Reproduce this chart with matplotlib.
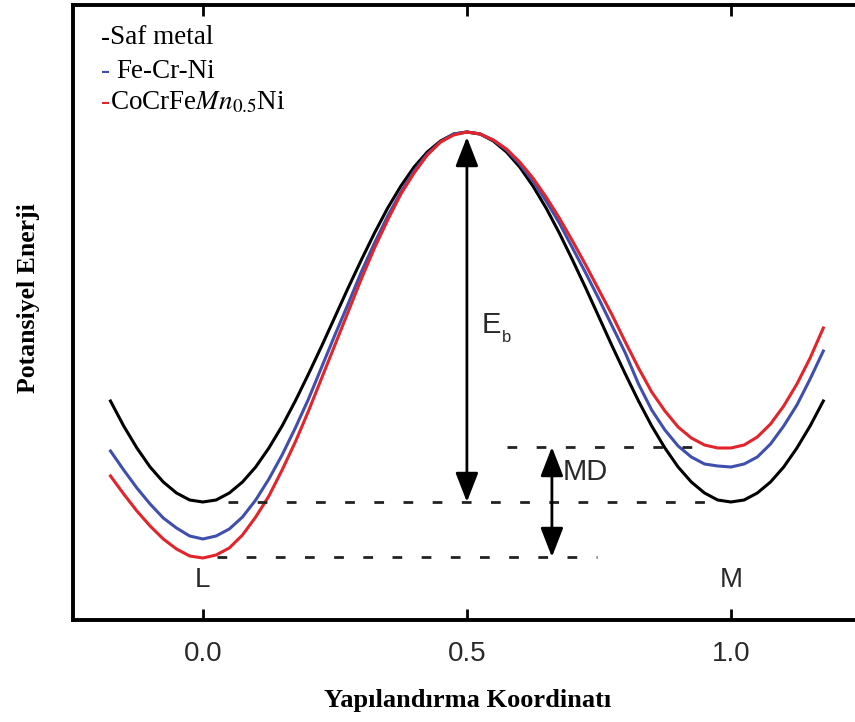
import matplotlib.pyplot as plt

plt.rcParams['mathtext.fontset'] = 'stix'

# reaction coordinate samples
x = [-0.175, -0.15, -0.125, -0.10, -0.075, -0.05, -0.025, 0.00,
     0.025, 0.05, 0.075, 0.10, 0.125, 0.15, 0.175, 0.20, 0.225, 0.25,
     0.275, 0.30, 0.325, 0.35, 0.375, 0.40, 0.425, 0.45, 0.475, 0.50,
     0.525, 0.55, 0.575, 0.60, 0.625, 0.65, 0.675, 0.70, 0.725, 0.75,
     0.775, 0.80, 0.825, 0.85, 0.875, 0.90, 0.925, 0.95, 0.975, 1.00,
     1.025, 1.05, 1.075, 1.10, 1.125, 1.15, 1.175]

# potential energy (arbitrary units)
saf_metal = [2.19, 1.94, 1.72, 1.53, 1.38, 1.27, 1.20, 1.18,
             1.20, 1.27, 1.38, 1.53, 1.72, 1.94, 2.19, 2.46, 2.74, 3.03,
             3.32, 3.60, 3.87, 4.12, 4.34, 4.53, 4.68, 4.79, 4.86, 4.88,
             4.86, 4.79, 4.68, 4.53, 4.34, 4.12, 3.87, 3.60, 3.32, 3.03,
             2.74, 2.46, 2.19, 1.94, 1.72, 1.53, 1.38, 1.27, 1.20, 1.18,
             1.20, 1.27, 1.38, 1.53, 1.72, 1.94, 2.19]
fe_cr_ni = [1.69, 1.50, 1.32, 1.16, 1.02, 0.92, 0.84, 0.81,
            0.84, 0.91, 1.03, 1.20, 1.41, 1.65, 1.92, 2.21, 2.53, 2.85,
            3.16, 3.48, 3.77, 4.04, 4.28, 4.49, 4.66, 4.78, 4.86, 4.88,
            4.86, 4.80, 4.70, 4.56, 4.39, 4.19, 3.97, 3.72, 3.47, 3.21,
            2.94, 2.67, 2.36, 2.10, 1.90, 1.74, 1.63, 1.56, 1.54, 1.53,
            1.56, 1.63, 1.76, 1.94, 2.15, 2.41, 2.69]
cocrfemnni = [1.44, 1.26, 1.09, 0.94, 0.81, 0.71, 0.64, 0.62,
              0.65, 0.72, 0.85, 1.03, 1.24, 1.50, 1.78, 2.09, 2.42, 2.75,
              3.08, 3.41, 3.72, 4.00, 4.26, 4.47, 4.65, 4.78, 4.85, 4.88,
              4.86, 4.80, 4.71, 4.58, 4.42, 4.23, 4.02, 3.79, 3.55, 3.30,
              3.05, 2.78, 2.52, 2.28, 2.09, 1.93, 1.82, 1.75, 1.72, 1.72,
              1.75, 1.83, 1.96, 2.14, 2.36, 2.62, 2.92]

# reference levels
levels = [1.73, 1.18, 0.63]
level_spans = [(0.576, 0.941), (0.047, 0.951), (0.027, 0.746)]
eb_x, eb_top = 0.5, 4.83
md_x = 0.661

xticks = [0.0, 0.5, 1.0]
xticklabels = ['0.0', '0.5', '1.0']

fig = plt.figure(figsize=(8.55, 7.22), dpi=100)
ax = fig.add_axes([73 / 855, 1 - 620 / 722, 1 - 73 / 855, 615 / 722])

ax.plot(x, saf_metal, color='black', lw=2.2)
ax.plot(x, fe_cr_ni, color='#3f4fae', lw=2.2)
ax.plot(x, cocrfemnni, color='#e3242b', lw=2.2)

for lv, (x0, x1) in zip(levels, level_spans):
    ax.plot([x0, x1], [lv, lv], color='#222222', lw=2, dashes=(3.5, 7))

arrow = dict(arrowstyle='<|-|>,head_length=0.9,head_width=0.35', color='black', lw=2,
             shrinkA=0, shrinkB=0, mutation_scale=20)
ax.annotate('', xy=(eb_x, eb_top), xytext=(eb_x, levels[1]), arrowprops=arrow)
ax.annotate('', xy=(md_x, levels[0]), xytext=(md_x, levels[2]), arrowprops=arrow)

lab = dict(family='Liberation Sans', color='#2a2a2a')
ax.text(0.528, 2.95, 'E', fontsize=21, ha='left', va='center', **lab)
ax.text(0.566, 2.82, 'b', fontsize=12, ha='left', va='center', **lab)
ax.text(0.682, 1.48, 'MD', fontsize=21, ha='left', va='center', **lab)
ax.text(0.0, 0.40, 'L', fontsize=20, ha='center', va='center', **lab)
ax.text(1.0, 0.40, 'M', fontsize=20, ha='center', va='center', **lab)

ax.set_xlim(-0.246, 1.235)
ax.set_ylim(0, 6.15)
ax.set_xticks(xticks)
ax.set_xticklabels(xticklabels, fontsize=20, family='Liberation Sans', color='#2a2a2a')
ax.set_yticks([])
ax.tick_params(axis='x', direction='in', length=8, width=2, top=True, pad=15)
for s in ['left', 'bottom', 'top']:
    ax.spines[s].set_linewidth(2.8)
ax.spines['right'].set_visible(False)

fig.text(468 / 855, 1 - 700 / 722, 'Yapılandırma Koordinatı', fontsize=19, fontweight='bold',
         family='Liberation Serif', ha='center', va='center')
fig.text(28 / 855, 1 - 298 / 722, 'Potansiyel Enerji', fontsize=18.5, fontweight='bold',
         family='Liberation Serif', ha='center', va='center', rotation=90)

# legend-like notes
leg = dict(fontsize=19.5, family='Liberation Serif', va='center')
rows = [('-', 'black', 'Saf metal', 38), ('- ', '#3f4fae', 'Fe-Cr-Ni', 72),
        ('-', '#e3242b', r'CoCrFe$Mn_{0.5}$Ni', 103)]
for dash, col, name, ypix in rows:
    t = fig.text(101 / 855, 1 - ypix / 722, dash, color=col, **leg)
    ax.annotate(name, xy=(1, 0.5), xycoords=t, ha='left', color='black', **leg)

fig.savefig('out.png', dpi=100)
